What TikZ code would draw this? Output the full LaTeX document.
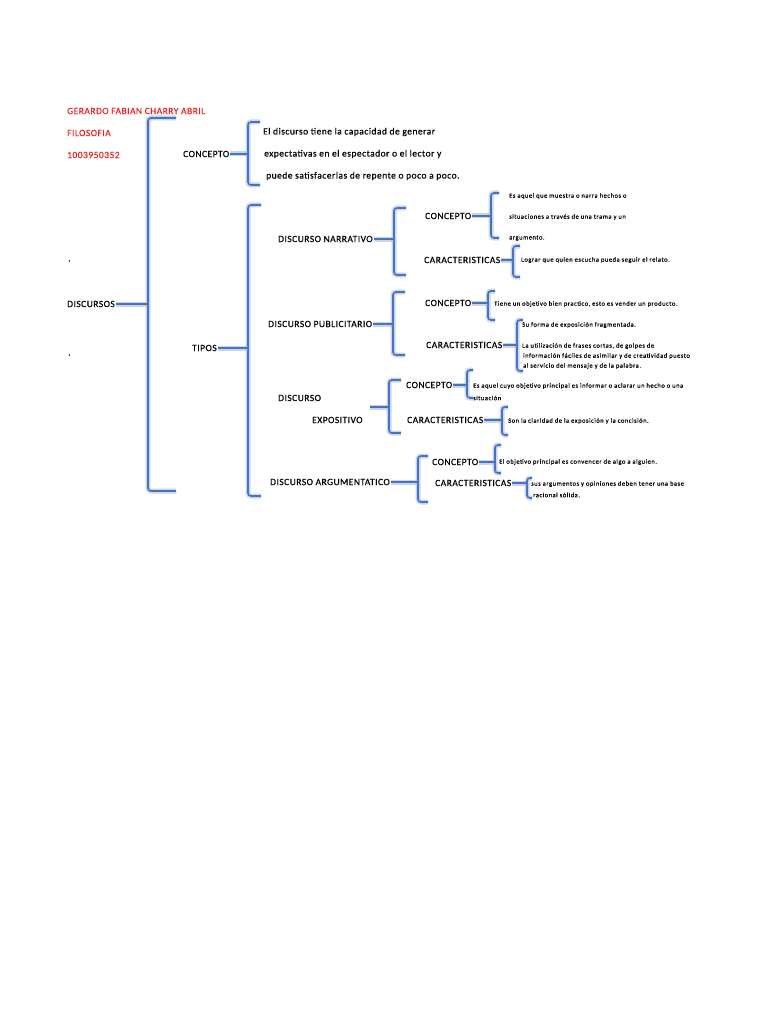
\documentclass[tikz,border=0pt]{standalone}
\usepackage{fontspec}
\setmainfont{Carlito}
\newfontfamily\lblfont[LetterSpace=5,FakeBold=0.4]{Carlito}
\newfontfamily\notafont[LetterSpace=8,FakeBold=0.2]{Carlito}
\usepackage{xcolor}
\usepackage{tikz}
\usetikzlibrary{positioning}
\definecolor{brkblue}{RGB}{68,114,196}
\definecolor{glowblue}{RGB}{140,162,205}
\definecolor{autorred}{RGB}{232,36,36}
% left bracket: x, top, bottom, length of the ends
\newcommand{\llave}[4]{\draw[brace] ({#1+#4},#2) -- (#1,#2) -- (#1,#3) -- ({#1+#4},#3);}
\begin{document}
\begin{tikzpicture}[x=1pt, y=-1pt, inner sep=1pt,
  lbl/.style={anchor=west, font=\lblfont\fontsize{9.5}{11}\selectfont},
  autor/.style={lbl, text=autorred},
  nota/.style={anchor=west, font=\notafont\fontsize{6.5}{8}\selectfont},
  brace/.style={draw=brkblue, line width=1.6pt, rounded corners=3pt,
    preaction={draw=glowblue, line width=5pt, opacity=0.45}}]
\useasboundingbox[fill=white] (0,0) rectangle (768,1024);
% author
\node[autor] (nombre) at (66,111) {GERARDO FABIAN CHARRY ABRIL};
\node[autor] (filo) at (66,133) {FILOSOFIA};
\node[autor] (codigo) at (66,155) {1003950352};
\node[lbl] (dot1) at (67,261) {.};
\node[lbl] (dot2) at (67,355) {.};
% root
\node[lbl] (discursos) at (66,304) {DISCURSOS};
\llave{148}{118}{491}{28}
\draw[brace] (discursos.east) -- (148,304);
% concepto
\node[lbl] (concepto) at (182,154) {CONCEPTO};
\llave{248}{122}{185}{12}
\draw[brace] (concepto.east) -- (248,154);
\node[lbl] (def1) at (262,132) {El discurso tiene la capacidad de generar};
\node[lbl] (def2) at (263,154) {expectativas en el espectador o el lector y};
\node[lbl] (def3) at (265,176) {puede satisfacerlas de repente o poco a poco.};
% tipos
\node[lbl] (tipos) at (191,348) {TIPOS};
\llave{248}{205}{496}{13}
\draw[brace] (tipos.east) -- (248,348);
% narrativo
\node[lbl] (narrativo) at (277,239) {DISCURSO NARRATIVO};
\llave{394}{208}{275}{12}
\draw[brace] (narrativo.east) -- (394,239);
\node[lbl] (narcon) at (424,216) {CONCEPTO};
\llave{491}{193}{238}{8}
\draw[brace] (narcon.east) -- (491,216);
\node[nota] (narcon1) at (508,196) {Es aquel que muestra o narra hechos o};
\node[nota] (narcon2) at (508,217) {situaciones a través de una trama y un};
\node[nota] (narcon3) at (508,238) {argumento.};
\node[lbl] (narcar) at (423,260) {CARACTERISTICAS};
\llave{513}{246}{277}{7}
\draw[brace] (narcar.east) -- (513,260);
\node[nota] (narcar1) at (520,260) {Lograr que quien escucha pueda seguir el relato.};
% publicitario
\node[lbl] (publi) at (267,324) {DISCURSO PUBLICITARIO};
\llave{393}{292}{355}{12}
\draw[brace] (publi.east) -- (393,324);
\node[lbl] (pubcon) at (424,303) {CONCEPTO};
\llave{488}{291}{320}{7}
\draw[brace] (pubcon.east) -- (488,303);
\node[nota] (pubcon1) at (493,304) {Tiene un objetivo bien practico, esto es vender un producto.};
\node[lbl] (pubcar) at (425,345) {CARACTERISTICAS};
\llave{517}{320}{371}{6}
\draw[brace] (pubcar.east) -- (517,345);
\node[nota] (pubcar1) at (521,325) {Su forma de exposición fragmentada.};
\node[nota] (pubcar2) at (521,346) {La utilización de frases cortas, de golpes de};
\node[nota] (pubcar3) at (522,356) {información fáciles de asimilar y de creatividad puesto};
\node[nota] (pubcar4) at (522,366) {al servicio del mensaje y de la palabra.};
% expositivo
\node[lbl] (expo1) at (277,398) {DISCURSO};
\node[lbl] (expo2) at (311,420) {EXPOSITIVO};
\coordinate (expo) at (370,407);
\llave{389}{380}{433}{12}
\draw[brace] (expo) -- (389,407);
\node[lbl] (expcon) at (405,385) {CONCEPTO};
\llave{467}{370}{398}{6}
\draw[brace] (expcon.east) -- (467,385);
\node[nota] (expcon1) at (472,386) {Es aquel cuyo objetivo principal es informar o aclarar un hecho o una};
\node[nota] (expcon2) at (472,398) {situación};
\node[lbl] (expcar) at (406,420) {CARACTERISTICAS};
\llave{502}{407}{435}{6}
\draw[brace] (expcar.east) -- (502,420);
\node[nota] (expcar1) at (507,421) {Son la claridad de la exposición y la concisión.};
% argumentatico
\node[lbl] (argu) at (269,482) {DISCURSO ARGUMENTATICO};
\llave{418}{456}{502}{10}
\draw[brace] (argu.east) -- (418,482);
\node[lbl] (argcon) at (431,462) {CONCEPTO};
\llave{495}{445}{473}{6}
\draw[brace] (argcon.east) -- (495,462);
\node[nota] (argcon1) at (498,462) {El objetivo principal es convencer de algo a alguien.};
\node[lbl] (argcar) at (434,483) {CARACTERISTICAS};
\llave{527}{478}{498}{5}
\draw[brace] (argcar.east) -- (527,483);
\node[nota] (argcar1) at (530,484) {sus argumentos y opiniones deben tener una base};
\node[nota] (argcar2) at (532,495) {racional sólida.};
\end{tikzpicture}
\end{document}
